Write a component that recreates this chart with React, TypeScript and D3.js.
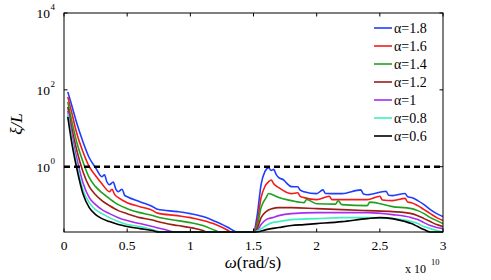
import React from "react";
import * as d3 from "d3";

// omega (x 1e10 rad/s) and xi/L for each alpha
const w18 = [0.03, 0.06, 0.1, 0.15, 0.2, 0.25, 0.3, 0.32, 0.34, 0.36, 0.39, 0.41, 0.43, 0.46, 0.48, 0.5, 0.6, 0.7, 0.74, 0.9, 1.0, 1.1, 1.2, 1.3, 1.37, 1.5, 1.53, 1.56, 1.59, 1.62, 1.64, 1.66, 1.68, 1.7, 1.74, 1.76, 1.8, 1.85, 1.87, 1.9, 2.0, 2.05, 2.07, 2.2, 2.35, 2.37, 2.4, 2.55, 2.57, 2.6, 2.7, 2.72, 2.75, 2.8, 2.85, 2.9, 2.95, 3.0];
const xi18 = [88.7, 40.8, 13.9, 4.46, 1.71, 0.942, 0.55, 0.62, 0.4, 0.341, 0.4, 0.26, 0.224, 0.26, 0.18, 0.166, 0.123, 0.092, 0.078, 0.0678, 0.0601, 0.0503, 0.0373, 0.0261, 0.02, 0.02, 0.0566, 0.341, 0.741, 0.942, 0.8, 0.85, 0.62, 0.518, 0.45, 0.38, 0.303, 0.3, 0.245, 0.224, 0.199, 0.25, 0.2, 0.199, 0.25, 0.195, 0.187, 0.23, 0.18, 0.177, 0.2, 0.165, 0.157, 0.131, 0.103, 0.0764, 0.0601, 0.0503];

const w16 = [0.03, 0.06, 0.1, 0.15, 0.2, 0.25, 0.3, 0.36, 0.38, 0.4, 0.43, 0.5, 0.6, 0.7, 0.74, 0.9, 1.0, 1.1, 1.2, 1.3, 1.32, 1.5, 1.53, 1.56, 1.59, 1.62, 1.64, 1.66, 1.7, 1.8, 1.85, 1.87, 1.9, 2.0, 2.1, 2.12, 2.2, 2.4, 2.5, 2.52, 2.6, 2.7, 2.72, 2.75, 2.8, 2.85, 2.9, 2.95, 3.0];
const xi16 = [65.8, 26.8, 7.64, 2.45, 1.0, 0.584, 0.362, 0.224, 0.26, 0.19, 0.157, 0.116, 0.0914, 0.073, 0.062, 0.0533, 0.0473, 0.0396, 0.0312, 0.0218, 0.02, 0.02, 0.0373, 0.157, 0.303, 0.408, 0.45, 0.362, 0.285, 0.199, 0.21, 0.17, 0.157, 0.139, 0.17, 0.139, 0.139, 0.139, 0.17, 0.136, 0.131, 0.15, 0.12, 0.116, 0.097, 0.0764, 0.0601, 0.0473, 0.0396];

const w14 = [0.03, 0.06, 0.1, 0.15, 0.2, 0.25, 0.3, 0.36, 0.43, 0.5, 0.6, 0.7, 0.74, 0.9, 1.0, 1.1, 1.2, 1.23, 1.5, 1.53, 1.56, 1.6, 1.62, 1.65, 1.7, 1.8, 1.9, 1.92, 2.0, 2.15, 2.17, 2.2, 2.4, 2.42, 2.6, 2.75, 2.8, 2.85, 2.9, 2.95, 3.0];
const xi14 = [48.8, 16.6, 4.46, 1.35, 0.518, 0.303, 0.211, 0.148, 0.103, 0.0811, 0.0638, 0.054, 0.049, 0.0396, 0.0351, 0.0294, 0.0218, 0.02, 0.02, 0.0294, 0.0861, 0.157, 0.2, 0.187, 0.157, 0.131, 0.116, 0.14, 0.109, 0.106, 0.13, 0.103, 0.097, 0.12, 0.0914, 0.0811, 0.072, 0.0601, 0.0473, 0.0396, 0.0331];

const w12 = [0.03, 0.06, 0.1, 0.15, 0.2, 0.25, 0.3, 0.36, 0.43, 0.5, 0.6, 0.7, 0.74, 0.9, 1.0, 1.1, 1.13, 1.5, 1.53, 1.56, 1.6, 1.65, 1.7, 1.8, 2.0, 2.2, 2.4, 2.6, 2.75, 2.8, 2.85, 2.9, 2.95, 3.0];
const xi12 = [36.2, 10.9, 2.77, 0.741, 0.303, 0.187, 0.131, 0.097, 0.072, 0.0601, 0.0473, 0.041, 0.0373, 0.0294, 0.0261, 0.0218, 0.02, 0.02, 0.0245, 0.0473, 0.0678, 0.0811, 0.0861, 0.0861, 0.0811, 0.0764, 0.072, 0.0678, 0.0601, 0.0533, 0.0446, 0.0373, 0.0312, 0.0277];

const w10 = [0.03, 0.06, 0.1, 0.15, 0.2, 0.25, 0.3, 0.36, 0.43, 0.5, 0.6, 0.7, 0.8, 0.87, 1.5, 1.53, 1.56, 1.6, 1.65, 1.7, 1.8, 2.0, 2.2, 2.4, 2.6, 2.75, 2.8, 2.85, 2.9, 2.95, 3.0];
const xi10 = [28.5, 7.64, 1.71, 0.384, 0.157, 0.103, 0.0764, 0.0601, 0.0473, 0.0396, 0.0331, 0.0277, 0.0231, 0.02, 0.02, 0.0218, 0.0312, 0.042, 0.0473, 0.0533, 0.0601, 0.0638, 0.0638, 0.0638, 0.0566, 0.0473, 0.042, 0.0351, 0.0294, 0.0261, 0.0245];

const w08 = [0.03, 0.06, 0.1, 0.15, 0.2, 0.25, 0.3, 0.36, 0.43, 0.5, 0.6, 0.7, 0.77, 1.5, 1.55, 1.6, 1.65, 1.7, 1.8, 2.0, 2.2, 2.4, 2.6, 2.75, 2.8, 2.85, 2.9, 2.95, 3.0];
const xi08 = [23.8, 5.66, 1.2, 0.253, 0.116, 0.0764, 0.0601, 0.0473, 0.0373, 0.0312, 0.0277, 0.0231, 0.02, 0.02, 0.0231, 0.0294, 0.0351, 0.0373, 0.042, 0.0446, 0.0473, 0.0473, 0.0446, 0.0373, 0.0331, 0.0277, 0.0245, 0.0218, 0.02];

const w06 = [0.03, 0.06, 0.1, 0.15, 0.2, 0.25, 0.3, 0.36, 0.43, 0.5, 0.6, 0.7, 0.75, 1.52, 1.6, 1.7, 1.8, 1.9, 2.0, 2.2, 2.4, 2.5, 2.6, 2.7, 2.75, 2.8, 2.85, 2.9, 3.0];
const xi06 = [19.9, 4.46, 0.942, 0.199, 0.0861, 0.0566, 0.0446, 0.0373, 0.0312, 0.0277, 0.0245, 0.0218, 0.02, 0.02, 0.0231, 0.0261, 0.0294, 0.0312, 0.0331, 0.0373, 0.0446, 0.0473, 0.0446, 0.0373, 0.0331, 0.0277, 0.0231, 0.02, 0.02];

const alphaLabels = ["1.8", "1.6", "1.4", "1.2", "1", "0.8", "0.6"];
const seriesW = [w18, w16, w14, w12, w10, w08, w06];
const seriesXi = [xi18, xi16, xi14, xi12, xi10, xi08, xi06];
const lineColors = ["#1f3dff", "#f51a1a", "#1fa01f", "#9c1f14", "#a82cf0", "#3ff0bf", "#000000"];

const xTicks = [0, 0.5, 1, 1.5, 2, 2.5, 3];
const yTicks = [1e4, 1e2, 1];
const yTickExp = ["4", "2", "0"];
const threshold = 1;

const width = 491;
const height = 280;
const plot = { left: 64, right: 443, top: 13, bottom: 232 };
const font = "'Liberation Serif', 'DejaVu Serif', serif";

export default function App() {
  const x = d3.scaleLinear().domain([0, 3]).range([plot.left, plot.right]);
  const y = d3.scaleLog().domain([0.02, 1e4]).range([plot.bottom, plot.top]);
  const line = d3
    .line<[number, number]>()
    .x(d => x(d[0]))
    .y(d => y(d[1]))
    .curve(d3.curveMonotoneX);

  return (
    <svg
      width={width}
      height={height}
      style={{ position: "absolute", left: 0, top: 0, background: "#fff", fontFamily: font }}
    >
      <defs>
        <clipPath id="plot-clip">
          <rect
            x={plot.left}
            y={plot.top}
            width={plot.right - plot.left}
            height={plot.bottom - plot.top + 1}
          />
        </clipPath>
      </defs>

      <g clipPath="url(#plot-clip)">
        {seriesW.map((ws, i) => (
          <path
            key={alphaLabels[i]}
            d={line(ws.map((w, j) => [w, seriesXi[i][j]]) as [number, number][]) || ""}
            fill="none"
            stroke={lineColors[i]}
            strokeWidth={1.6}
            strokeLinejoin="round"
          />
        ))}
        <line
          x1={plot.left}
          x2={plot.right}
          y1={y(threshold)}
          y2={y(threshold)}
          stroke="#000"
          strokeWidth={2.6}
          strokeDasharray="6,4"
        />
      </g>

      {/* box */}
      <rect
        x={plot.left}
        y={plot.top}
        width={plot.right - plot.left}
        height={plot.bottom - plot.top}
        fill="none"
        stroke="#000"
        strokeWidth={1}
      />

      {/* x ticks */}
      {xTicks.map(t => (
        <g key={"x" + t}>
          <line x1={x(t)} x2={x(t)} y1={plot.bottom} y2={plot.bottom - 3.5} stroke="#000" />
          <line x1={x(t)} x2={x(t)} y1={plot.top} y2={plot.top + 3.5} stroke="#000" />
          <text x={x(t)} y={250} fontSize={13.5} textAnchor="middle">
            {t}
          </text>
        </g>
      ))}

      {/* y ticks */}
      {yTicks.map((t, i) => (
        <g key={"y" + t}>
          <line x1={plot.left} x2={plot.left + 3.5} y1={y(t)} y2={y(t)} stroke="#000" />
          <line x1={plot.right} x2={plot.right - 3.5} y1={y(t)} y2={y(t)} stroke="#000" />
          <text x={50} y={y(t) + 5} fontSize={13.5} textAnchor="end">
            10
          </text>
          <text x={50.5} y={y(t) - 3} fontSize={9}>
            {yTickExp[i]}
          </text>
        </g>
      ))}

      {/* axis titles */}
      <text
        transform="translate(22,124) rotate(-90)"
        fontSize={17}
        fontStyle="italic"
        textAnchor="middle"
      >
        ξ/L
      </text>
      <text x={253} y={268} fontSize={17} textAnchor="middle">
        <tspan fontStyle="italic">ω</tspan>(rad/s)
      </text>
      <text x={405} y={273} fontSize={12}>
        x 10
      </text>
      <text x={431} y={265} fontSize={8.5}>
        10
      </text>

      {/* legend */}
      {alphaLabels.map((a, i) => {
        const ly = 28 + i * 18;
        return (
          <g key={"leg" + a}>
            <line x1={374} x2={392} y1={ly} y2={ly} stroke={lineColors[i]} strokeWidth={1.6} />
            <text x={394} y={ly + 4.5} fontSize={14}>
              α={a}
            </text>
          </g>
        );
      })}
    </svg>
  );
}
